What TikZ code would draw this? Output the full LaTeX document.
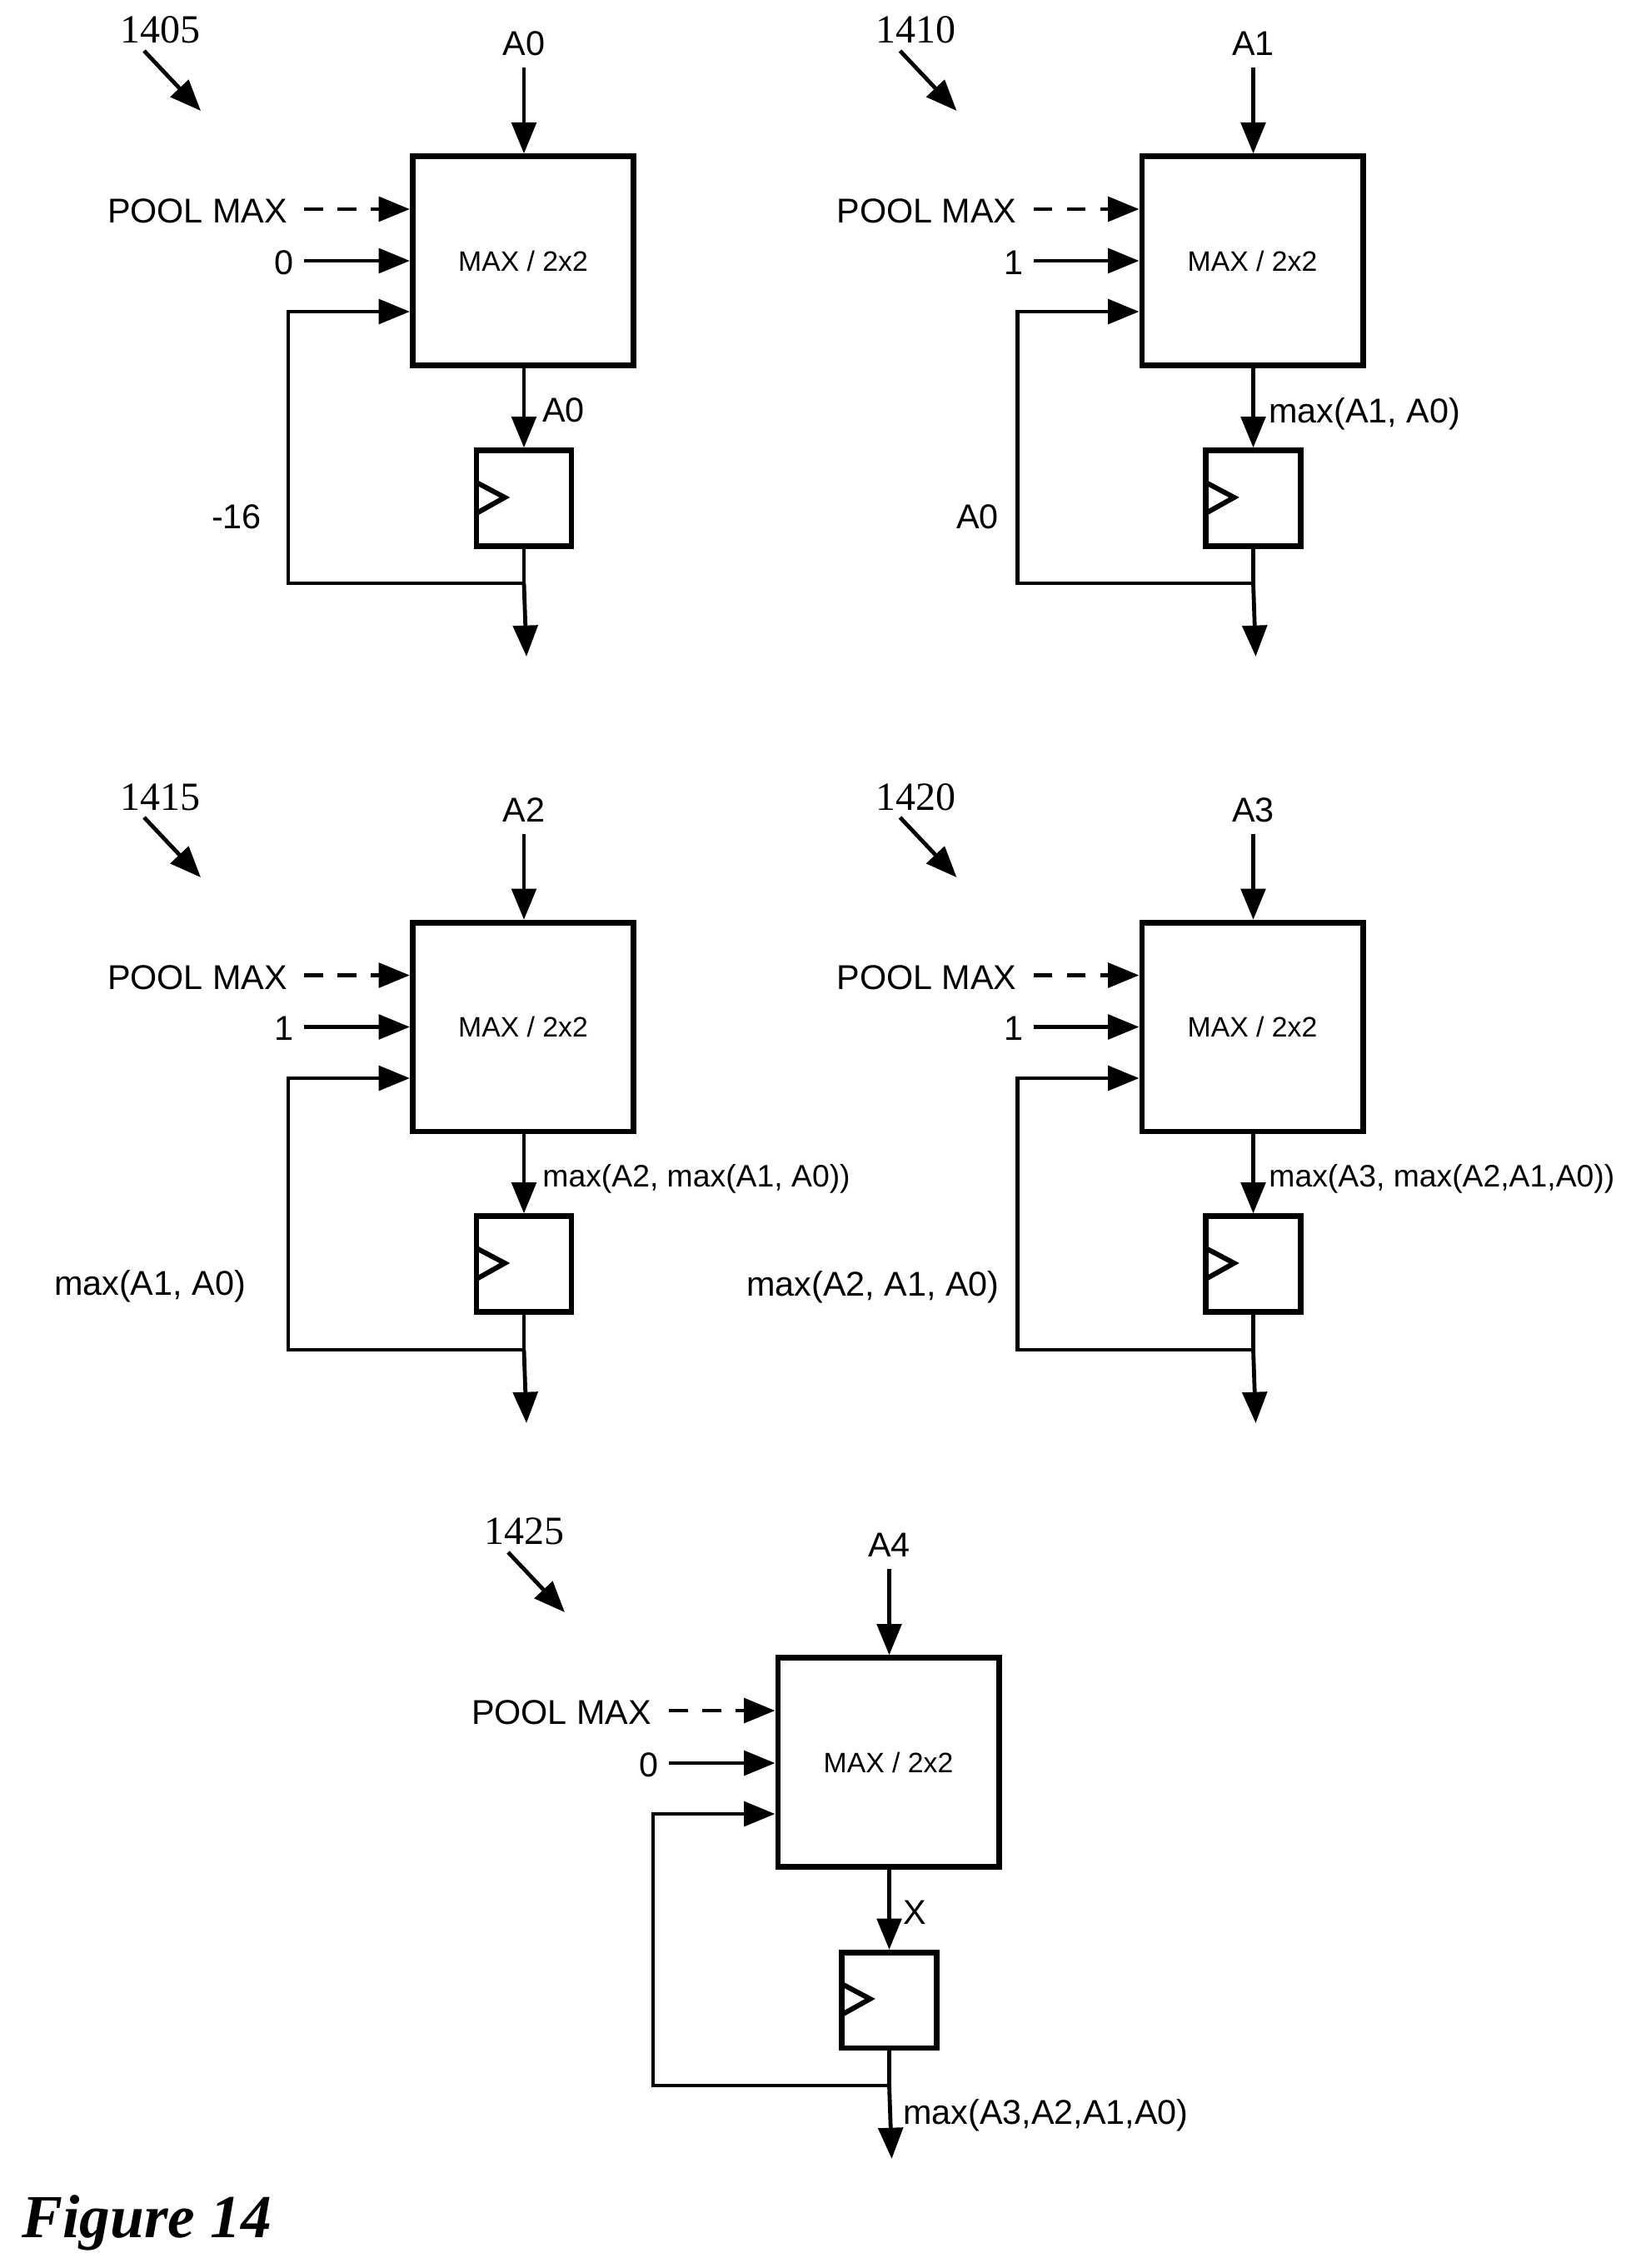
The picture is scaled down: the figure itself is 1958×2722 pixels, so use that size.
\documentclass[tikz,border=0pt]{standalone}
\usepackage{fontspec}
\setmainfont{Liberation Sans}
\newfontfamily\reffont{Liberation Serif}
\usetikzlibrary{arrows.meta}

\tikzset{every picture/.style={line width=3.6pt}}

\begin{document}
\begin{tikzpicture}[x=0.75pt,y=0.75pt,yscale=-1,xscale=1,
    maxbox/.style={draw, line width=5pt, minimum width=199pt, minimum height=188pt, font=\fontsize{25.3}{27}\selectfont},
    regbox/.style={draw, line width=5pt, minimum width=85.5pt, minimum height=86pt},
    sig/.style={-{Triangle[length=28pt,width=22pt]}},
    clk/.style={line width=4.5pt},
    lbl/.style={inner sep=0pt, font=\fontsize{31}{33}\selectfont},
    lblsm/.style={inner sep=0pt, font=\fontsize{28}{30}\selectfont},
    reflbl/.style={inner sep=0pt, font=\reffont\fontsize{36}{38}\selectfont}]
        \useasboundingbox (0,0) rectangle (1958,2722);

        %Block 1405
        \node[reflbl] (A9) at (192,36) {1405};
        \coordinate (A8) at (173,61);
        \coordinate (A7) at (241,133);
        \draw[sig] (A8) -- (A7);
        \node[maxbox] (A) at (628,313) {MAX / 2x2};
        \node[regbox] (AR) at (629,598) {};
        \draw[clk] (572,579) -- (606,597) -- (572,616);
        \node[lbl] (A0) at (629,52) {A0};
        \coordinate (A1) at (629,81);
        \draw[sig] (A1) -- (A1 |- A.north);
        \node[lbl] (A2) at (237,253) {POOL MAX};
        \coordinate (A3) at (365,251);
        \draw[sig, dash pattern={on 17pt off 13pt}] (A3) -- (A3 -| A.west);
        \node[lbl] (A4) at (341,315) {0};
        \coordinate (A5) at (365,313);
        \draw[sig] (A5) -- (A5 -| A.west);
        \coordinate (AJ) at (629,700);
        \coordinate (AC) at (346,700);
        \coordinate (AF) at (346,374);
        \draw (AR.south) -- (AJ);
        \draw[sig] (AJ) -- (AC) -- (AF) -- (AF -| A.west);
        \coordinate (AO) at (632,788);
        \draw[sig] (AJ) -- (AO);
        \draw[sig] (A.south -| AR) -- (AR.north);
        \node[lbl, anchor=west] (A6) at (649,492) {A0};
        \node[lbl] (AL) at (284,620) {-16};

        %Block 1410
        \node[reflbl] (B9) at (1099.5,36) {1410};
        \coordinate (B8) at (1080.5,61);
        \coordinate (B7) at (1148.5,133);
        \draw[sig] (B8) -- (B7);
        \node[maxbox] (B) at (1503.5,313) {MAX / 2x2};
        \node[regbox] (BR) at (1504.5,598) {};
        \draw[clk] (1447.5,579) -- (1481.5,597) -- (1447.5,616);
        \node[lbl] (B0) at (1504.5,52) {A1};
        \coordinate (B1) at (1504.5,81);
        \draw[sig] (B1) -- (B1 |- B.north);
        \node[lbl] (B2) at (1112.5,253) {POOL MAX};
        \coordinate (B3) at (1240.5,251);
        \draw[sig, dash pattern={on 17pt off 13pt}] (B3) -- (B3 -| B.west);
        \node[lbl] (B4) at (1216.5,315) {1};
        \coordinate (B5) at (1240.5,313);
        \draw[sig] (B5) -- (B5 -| B.west);
        \coordinate (BJ) at (1504.5,700);
        \coordinate (BC) at (1221.5,700);
        \coordinate (BF) at (1221.5,374);
        \draw (BR.south) -- (BJ);
        \draw[sig] (BJ) -- (BC) -- (BF) -- (BF -| B.west);
        \coordinate (BO) at (1507.5,788);
        \draw[sig] (BJ) -- (BO);
        \draw[sig] (B.south -| BR) -- (BR.north);
        \node[lbl, anchor=west] (B6) at (1521,497) {max(A1, A0)};
        \node[lbl] (BL) at (1173.5,620) {A0};

        %Block 1415
        \node[reflbl] (C9) at (192,957) {1415};
        \coordinate (C8) at (173,981);
        \coordinate (C7) at (241,1053);
        \draw[sig] (C8) -- (C7);
        \node[maxbox] (C) at (628,1232.5) {MAX / 2x2};
        \node[regbox] (CR) at (629,1517) {};
        \draw[clk] (572,1498) -- (606,1516) -- (572,1535);
        \node[lbl] (C0) at (629,972) {A2};
        \coordinate (C1) at (629,1001);
        \draw[sig] (C1) -- (C1 |- C.north);
        \node[lbl] (C2) at (237,1173) {POOL MAX};
        \coordinate (C3) at (365,1170.5);
        \draw[sig, dash pattern={on 17pt off 13pt}] (C3) -- (C3 -| C.west);
        \node[lbl] (C4) at (341,1234) {1};
        \coordinate (C5) at (365,1232.5);
        \draw[sig] (C5) -- (C5 -| C.west);
        \coordinate (CJ) at (629,1620);
        \coordinate (CC) at (346,1620);
        \coordinate (CF) at (346,1294);
        \draw (CR.south) -- (CJ);
        \draw[sig] (CJ) -- (CC) -- (CF) -- (CF -| C.west);
        \coordinate (CO) at (632,1708);
        \draw[sig] (CJ) -- (CO);
        \draw[sig] (C.south -| CR) -- (CR.north);
        \node[lblsm, anchor=west] (C6) at (649,1415) {max(A2, max(A1, A0))};
        \node[lbl] (CL) at (180,1544) {max(A1, A0)};

        %Block 1420
        \node[reflbl] (D9) at (1099.5,957) {1420};
        \coordinate (D8) at (1080.5,981);
        \coordinate (D7) at (1148.5,1053);
        \draw[sig] (D8) -- (D7);
        \node[maxbox] (D) at (1503.5,1232.5) {MAX / 2x2};
        \node[regbox] (DR) at (1504.5,1517) {};
        \draw[clk] (1447.5,1498) -- (1481.5,1516) -- (1447.5,1535);
        \node[lbl] (D0) at (1504.5,972) {A3};
        \coordinate (D1) at (1504.5,1001);
        \draw[sig] (D1) -- (D1 |- D.north);
        \node[lbl] (D2) at (1112.5,1173) {POOL MAX};
        \coordinate (D3) at (1240.5,1170.5);
        \draw[sig, dash pattern={on 17pt off 13pt}] (D3) -- (D3 -| D.west);
        \node[lbl] (D4) at (1216.5,1234) {1};
        \coordinate (D5) at (1240.5,1232.5);
        \draw[sig] (D5) -- (D5 -| D.west);
        \coordinate (DJ) at (1504.5,1620);
        \coordinate (DC) at (1221.5,1620);
        \coordinate (DF) at (1221.5,1294);
        \draw (DR.south) -- (DJ);
        \draw[sig] (DJ) -- (DC) -- (DF) -- (DF -| D.west);
        \coordinate (DO) at (1507.5,1708);
        \draw[sig] (DJ) -- (DO);
        \draw[sig] (D.south -| DR) -- (DR.north);
        \node[lblsm, anchor=west] (D6) at (1521,1415) {max(A3, max(A2,A1,A0))};
        \node[lbl] (DL) at (1048,1545) {max(A2, A1, A0)};

        %Block 1425
        \node[reflbl] (E9) at (629,1838) {1425};
        \coordinate (E8) at (610,1863);
        \coordinate (E7) at (678,1935);
        \draw[sig] (E8) -- (E7);
        \node[maxbox] (E) at (1066.5,2115) {MAX / 2x2};
        \node[regbox] (ER) at (1067.5,2400.5) {};
        \draw[clk] (1010.5,2381) -- (1044.5,2399) -- (1010.5,2418);
        \node[lbl] (E0) at (1067.5,1854) {A4};
        \coordinate (E1) at (1067.5,1883);
        \draw[sig] (E1) -- (E1 |- E.north);
        \node[lbl] (E2) at (674,2055) {POOL MAX};
        \coordinate (E3) at (803,2053);
        \draw[sig, dash pattern={on 17pt off 13pt}] (E3) -- (E3 -| E.west);
        \node[lbl] (E4) at (779,2118) {0};
        \coordinate (E5) at (803,2116);
        \draw[sig] (E5) -- (E5 -| E.west);
        \coordinate (EJ) at (1067.5,2503);
        \coordinate (EC) at (784,2503);
        \coordinate (EF) at (784,2177);
        \draw (ER.south) -- (EJ);
        \draw[sig] (EJ) -- (EC) -- (EF) -- (EF -| E.west);
        \coordinate (EO) at (1070.5,2591);
        \draw[sig] (EJ) -- (EO);
        \draw[sig] (E.south -| ER) -- (ER.north);
        \node[lbl, anchor=west] (E6) at (1082,2295) {X};
        \node[lbl, anchor=west] (EL) at (1082,2539) {max(A3,A2,A1,A0)};

        \node[anchor=base west, inner sep=0pt, font=\reffont\bfseries\itshape\fontsize{55}{57}\selectfont] (F) at (24,2685) {Figure 14};
\end{tikzpicture}
\end{document}
